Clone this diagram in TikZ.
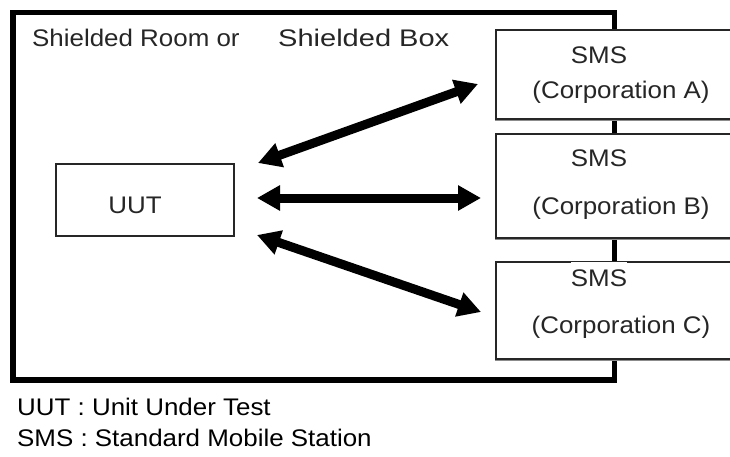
\documentclass[tikz,border=0pt]{standalone}
\usepackage{fontspec}
\usepackage{graphicx}
\setmainfont{Liberation Sans}[FakeStretch=1.08]
\usetikzlibrary{arrows.meta,shadows}
\begin{document}
\begin{tikzpicture}[x=1pt,y=-1pt,
  every node/.style={font=\fontsize{24}{28}\selectfont},
  room/.style={line width=5.5pt},
  box/.style={draw=black!85, line width=1.3pt, fill=white, inner sep=0pt},
  smsbox/.style={box, minimum width=239pt,
    drop shadow={shadow xshift=-1pt, shadow yshift=-2pt, fill=black!45, opacity=1}},
  txt/.style={anchor=base, text=black!85, inner sep=0pt},
  link/.style={line width=9pt,
    {Triangle[length=23pt,width=24pt]}-{Triangle[length=23pt,width=24pt]}}]
  \clip (0,0) rectangle (730,457);
  \fill[white] (0,0) rectangle (730,457);

  % shielded enclosure
  \draw[room] (13,12.5) rectangle (614.5,380);
  \node[anchor=base west, inner sep=0pt, text=black!85] (title) at (32,47)
    {Shielded Room or};
  \node[anchor=base west, inner sep=0pt, text=black!85] (title2) at (278,47)
    {\scalebox{1.12}[1]{Shielded Box}};

  % unit under test
  \node[box, minimum width=178pt, minimum height=72pt] (uut) at (145,200) {};
  \node[txt] (uutlbl) at (135,213) {UUT};

  % standard mobile stations
  \node[smsbox, minimum height=89pt] (smsA) at (615.5,74.5) {};
  \node[smsbox, minimum height=104pt] (smsB) at (615.5,186) {};
  \node[smsbox, minimum height=97pt] (smsC) at (615.5,310.5) {};

  \node[txt] (smsAa) at (599,64) {SMS};
  \node[txt] (smsAb) at (621,99) {(Corporation A)};
  \node[txt] (smsBa) at (599,167) {SMS};
  \node[txt] (smsBb) at (621,214) {(Corporation B)};
  \node[txt, fill=white, inner ysep=7pt] (smsCa) at (599,286) {SMS};
  \node[txt] (smsCb) at (621,333) {(Corporation C)};

  % radio links
  \coordinate (uA) at (258,163);
  \coordinate (uB) at (257,198);
  \coordinate (uC) at (257,235);
  \coordinate (sA) at (478,84);
  \coordinate (sB) at (481,198);
  \coordinate (sC) at (481,312);
  \draw[link] (uA) -- (sA);
  \draw[link] (uB) -- (sB);
  \draw[link] (uC) -- (sC);

  % legend
  \node[anchor=base west, inner sep=0pt] (legU) at (17,415) {UUT : Unit Under Test};
  \node[anchor=base west, inner sep=0pt] (legS) at (17,446) {SMS : Standard Mobile Station};
\end{tikzpicture}
\end{document}
